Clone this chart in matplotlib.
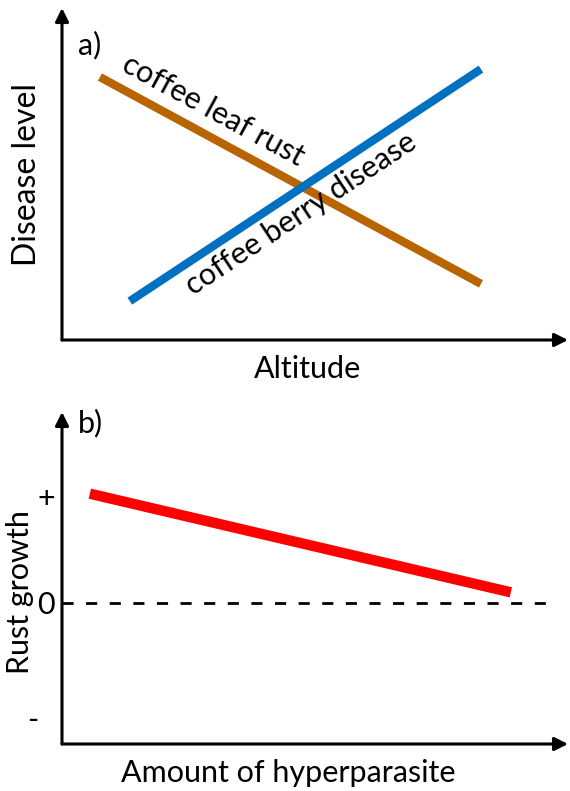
import matplotlib
matplotlib.use("Agg")
import matplotlib.pyplot as plt

BROWN, BLUE, RED = "#B86400", "#0070C0", "#FF0000"

plt.rcParams.update({
    "font.family": ["Lato", "DejaVu Sans"],
    "font.size": 22,
    "text.color": "black",
})

# panel a - schematic disease level vs altitude
altitude_rust = [0.75, 8.28]
rust_level = [7.92, 1.69]
altitude_cbd = [1.34, 8.28]
cbd_level = [1.17, 8.16]

# panel b - rust growth vs hyperparasite
hyperparasite = [0.55, 8.87]
rust_growth = [1.03, 0.10]
zero_line_x = [0, 9.66]
growth_ticks = [1, 0, -1.08]
growth_tick_labels = ["+", "0", "-  "]

W, H = 570, 791
fig = plt.figure(figsize=(W / 100, H / 100), dpi=100)
ax_a = fig.add_axes([62 / W, (H - 340) / H, 506 / W, 332 / H])
ax_b = fig.add_axes([62 / W, (H - 744) / H, 506 / W, 332 / H])


def arrow_axes(ax):
    for s in ax.spines.values():
        s.set_visible(False)
    for tip in [(0, 1), (1, 0)]:
        ax.annotate("", xy=tip, xytext=(0, 0), xycoords="axes fraction",
                    arrowprops=dict(arrowstyle="-|>", lw=2.2, color="black",
                                    mutation_scale=20, shrinkA=0, shrinkB=0))
    ax.set_xticks([])


# ---- a)
ax_a.plot(altitude_rust, rust_level, color=BROWN, lw=6, solid_capstyle="butt")
ax_a.plot(altitude_cbd, cbd_level, color=BLUE, lw=6, solid_capstyle="butt")
ax_a.set_xlim(0, 10)
ax_a.set_ylim(0, 10)
arrow_axes(ax_a)
ax_a.set_yticks([])
ax_a.text(2.98, 6.93, "coffee leaf rust", rotation=-28.5, rotation_mode="anchor",
          ha="center", va="center")
ax_a.text(4.72, 3.80, "coffee berry disease", rotation=33.5, rotation_mode="anchor",
          ha="center", va="center")
ax_a.text(0.032, 0.889, "a)", transform=ax_a.transAxes, ha="left", va="center")
ax_a.text(-0.069, 0.497, "Disease level", transform=ax_a.transAxes, rotation=90,
          ha="center", va="center", fontsize=23)
ax_a.text(0.486, -0.114, "Altitude", transform=ax_a.transAxes, ha="center", va="baseline")

# ---- b)
ax_b.plot(hyperparasite, rust_growth, color=RED, lw=7.5, solid_capstyle="butt")
ax_b.plot(zero_line_x, [0, 0], color="black", lw=2, dashes=(4, 4.5))
ax_b.set_xlim(0, 10)
ax_b.set_ylim(-1.33, 1.80)
arrow_axes(ax_b)
ax_b.set_yticks(growth_ticks, growth_tick_labels)
ax_b.tick_params(axis="y", length=0, pad=5, labelsize=22)
ax_b.text(0.032, 0.967, "b)", transform=ax_b.transAxes, ha="left", va="center")
ax_b.text(-0.083, 0.458, "Rust growth", transform=ax_b.transAxes, rotation=90,
          ha="center", va="center")
ax_b.text(0.447, -0.114, "Amount of hyperparasite", transform=ax_b.transAxes,
          ha="center", va="baseline")

fig.savefig("out.png", dpi=100, facecolor="white")
